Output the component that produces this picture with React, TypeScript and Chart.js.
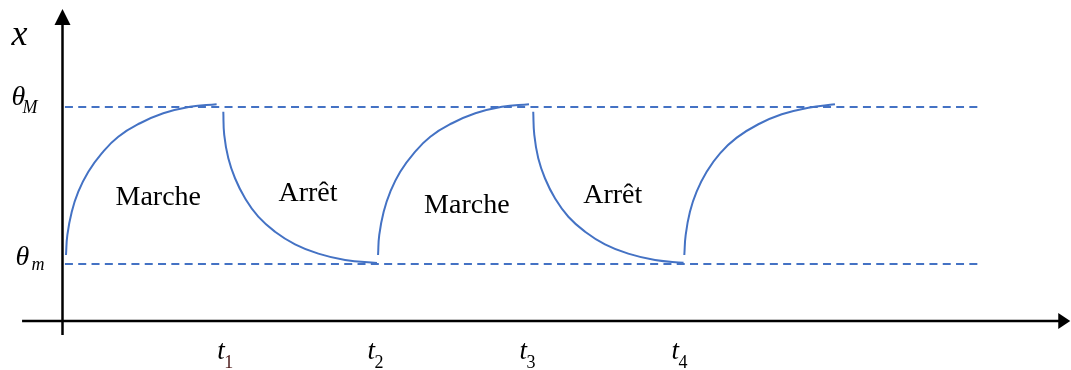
import { useEffect, useRef } from 'react';
import { Chart, registerables } from 'chart.js';

Chart.register(...registerables);

// Temperature bounds of the thermostat band
const THETA_MIN = 8;
const THETA_MAX = 30;
const GUIDE_START = 0.16;
const GUIDE_END = 60.2;

// Switching instants shown under the time axis
const TICK_TIMES = [10.7, 20.6, 30.6, 40.6];
const TICK_INDICES = ['1', '2', '3', '4'];

// Phase names and where their captions sit (time, temperature)
const PHASE_NAMES = ['Marche', 'Arrêt', 'Marche', 'Arrêt'];
const PHASE_LABEL_T = [6.3, 16.15, 26.6, 36.2];
const PHASE_LABEL_X = [16.3, 16.8, 15.1, 16.6];

// Heating / cooling curves: [time, temperature]
const marche1: [number, number][] = [
  [0.23, 9.25], [0.32, 12.06], [0.61, 15.32], [1.04, 18.13], [1.7, 20.93], [2.58, 23.51],
  [3.67, 25.84], [5.1, 27.72], [6.63, 29.12], [8.39, 30.05], [10.14, 30.39],
];
const arret1: [number, number][] = [
  [10.58, 29.34], [10.64, 26.08], [10.91, 22.81], [11.35, 20.01], [12.01, 17.2], [12.88, 14.62],
  [13.98, 12.52], [15.3, 10.75], [16.83, 9.44], [18.59, 8.55], [20.69, 8.13],
];
const marche2: [number, number][] = [
  [20.76, 9.25], [20.84, 12.06], [21.13, 15.32], [21.57, 18.13], [22.22, 20.93], [23.11, 23.51],
  [24.2, 25.84], [25.63, 27.72], [27.16, 29.12], [28.91, 30.05], [30.69, 30.39],
];
const arret2: [number, number][] = [
  [30.97, 29.34], [31.04, 26.08], [31.3, 22.81], [31.74, 20.01], [32.4, 17.2], [33.28, 14.62],
  [34.38, 12.52], [35.69, 10.75], [37.22, 9.44], [38.98, 8.55], [40.86, 8.17],
];
const marche3: [number, number][] = [
  [40.91, 9.25], [41.0, 12.06], [41.28, 15.32], [41.72, 18.13], [42.38, 20.93], [43.26, 23.51],
  [44.36, 25.7], [45.78, 27.58], [47.32, 28.98], [49.07, 29.9], [50.82, 30.39],
];

// Extents of the drawn axes, in data units
const X_AXIS_FROM = -2.66;
const X_AXIS_TIP = 66.3;
const Y_AXIS_FROM = -1.96;
const Y_AXIS_TIP = 43.74;

const BLUE = '#4472C4';
const SERIF = '"Liberation Serif", "Times New Roman", "DejaVu Serif", serif';

const toPoints = (arr: [number, number][]) => arr.map(([x, y]) => ({ x, y }));

const diagramPlugin = {
  id: 'diagram',
  beforeDatasetsDraw(chart: any) {
    const { ctx, scales } = chart;
    const xs = scales.x;
    const ys = scales.y;
    const ox = xs.getPixelForValue(0);
    const oy = ys.getPixelForValue(0);
    ctx.save();
    ctx.strokeStyle = '#000';
    ctx.fillStyle = '#000';
    ctx.lineWidth = 2.5;

    // vertical axis with arrow
    const yTip = ys.getPixelForValue(Y_AXIS_TIP);
    const yFrom = ys.getPixelForValue(Y_AXIS_FROM);
    ctx.beginPath();
    ctx.moveTo(ox, yFrom);
    ctx.lineTo(ox, yTip + 12);
    ctx.stroke();
    ctx.beginPath();
    ctx.moveTo(ox, yTip);
    ctx.lineTo(ox - 8, yTip + 16);
    ctx.lineTo(ox + 8, yTip + 16);
    ctx.closePath();
    ctx.fill();

    // horizontal axis with arrow
    const xTip = xs.getPixelForValue(X_AXIS_TIP);
    const xFrom = xs.getPixelForValue(X_AXIS_FROM);
    ctx.beginPath();
    ctx.moveTo(xFrom, oy);
    ctx.lineTo(xTip - 8, oy);
    ctx.stroke();
    ctx.beginPath();
    ctx.moveTo(xTip, oy);
    ctx.lineTo(xTip - 12, oy - 8);
    ctx.lineTo(xTip - 12, oy + 8);
    ctx.closePath();
    ctx.fill();
    ctx.restore();
  },
  afterDatasetsDraw(chart: any) {
    const { ctx, scales } = chart;
    const xs = scales.x;
    const ys = scales.y;
    const ox = xs.getPixelForValue(0);
    ctx.save();
    ctx.fillStyle = '#000';
    ctx.textBaseline = 'alphabetic';

    // axis name
    ctx.textAlign = 'left';
    ctx.font = `italic 36px ${SERIF}`;
    ctx.fillText('x', ox - 51, 45);

    // θM and θm
    const yM = ys.getPixelForValue(THETA_MAX);
    const ym = ys.getPixelForValue(THETA_MIN);
    ctx.font = `italic 28px ${SERIF}`;
    ctx.fillText('θ', ox - 51, yM - 2);
    ctx.fillText('θ', ox - 47, ym + 1);
    ctx.font = `italic 18px ${SERIF}`;
    ctx.fillText('M', ox - 40, yM + 6);
    ctx.fillText('m', ox - 31, ym + 6);

    // switching instants t1..t4
    TICK_TIMES.forEach((t, i) => {
      const cx = xs.getPixelForValue(t);
      ctx.font = `italic 27px ${SERIF}`;
      ctx.fillStyle = '#000';
      ctx.fillText('t', cx - 8, 359);
      ctx.font = `18px ${SERIF}`;
      ctx.fillStyle = i === 0 ? '#4a1818' : '#000';
      ctx.fillText(TICK_INDICES[i], cx - 1, 368);
    });

    // phase captions
    ctx.fillStyle = '#000';
    ctx.textAlign = 'center';
    ctx.font = `28px ${SERIF}`;
    PHASE_NAMES.forEach((name, i) => {
      ctx.fillText(name, xs.getPixelForValue(PHASE_LABEL_T[i]), ys.getPixelForValue(PHASE_LABEL_X[i]));
    });
    ctx.restore();
  },
};

export default function App() {
  const canvasRef = useRef<HTMLCanvasElement | null>(null);

  useEffect(() => {
    const canvas = canvasRef.current;
    if (!canvas) return;

    const curve = (data: [number, number][]) => ({
      data: toPoints(data),
      borderColor: BLUE,
      borderWidth: 2,
      pointRadius: 0,
      fill: false,
      tension: 0.45,
    });
    const guide = (level: number) => ({
      data: [{ x: GUIDE_START, y: level }, { x: GUIDE_END, y: level }],
      borderColor: BLUE,
      borderWidth: 1.9,
      borderDash: [8, 5.3],
      pointRadius: 0,
      fill: false,
    });

    const chart = new Chart(canvas, {
      type: 'line',
      data: {
        datasets: [
          guide(THETA_MAX),
          guide(THETA_MIN),
          curve(marche1),
          curve(arret1),
          curve(marche2),
          curve(arret2),
          curve(marche3),
        ],
      },
      options: {
        animation: false,
        responsive: false,
        devicePixelRatio: 1,
        layout: { padding: 0 },
        parsing: false,
        plugins: {
          legend: { display: false },
          tooltip: { enabled: false },
        },
        scales: {
          x: { type: 'linear', min: -4.112, max: 66.35, display: false },
          y: { type: 'linear', min: -6.87, max: 45.0, display: false },
        },
      },
      plugins: [diagramPlugin],
    });

    return () => chart.destroy();
  }, []);

  return (
    <div style={{ position: 'fixed', left: 0, top: 0, width: 1071, height: 370, background: '#fff' }}>
      <canvas ref={canvasRef} width={1071} height={370} style={{ display: 'block' }} />
    </div>
  );
}
